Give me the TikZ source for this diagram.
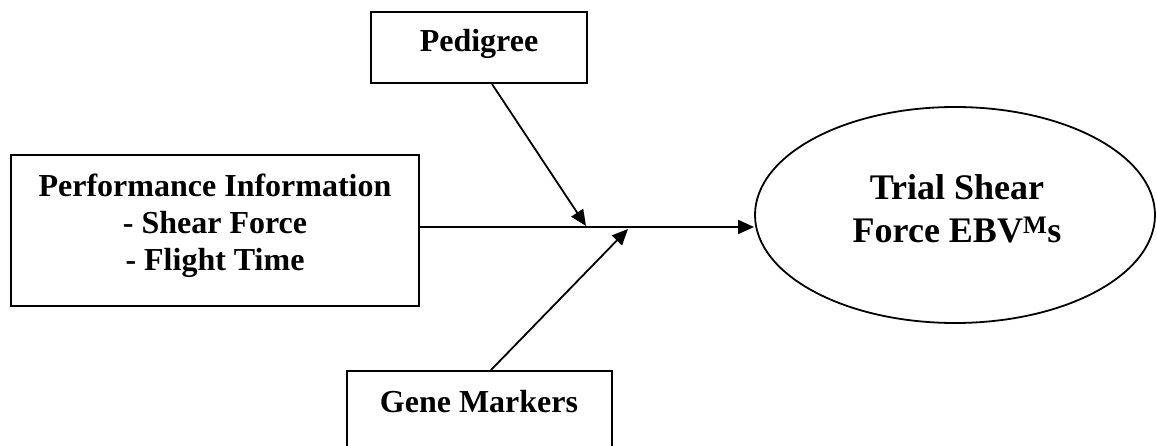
\documentclass[tikz,border=0pt]{standalone}
\usepackage{fontspec}
\setmainfont{Liberation Serif}
\usetikzlibrary{arrows.meta,shapes.geometric,calc}
\begin{document}
\begin{tikzpicture}[x=1pt,y=-1pt,
  boxstyle/.style={draw,line width=2pt,rectangle,inner sep=0pt},
  txt/.style={font=\fontsize{32}{36.7}\selectfont\bfseries,align=center,inner sep=0pt,anchor=base},
  bigtxt/.style={font=\fontsize{36}{42.7}\selectfont\bfseries,align=center,inner sep=0pt,anchor=base},
  arr/.style={line width=1.8pt,-{Triangle[length=16pt,width=14pt]}}]
\useasboundingbox (0,0) rectangle (1157,446);
% boxes
\node[boxstyle,minimum width=216pt,minimum height=71pt] (ped) at (479,47.5) {};
\node[boxstyle,minimum width=408pt,minimum height=151pt] (perf) at (215,230.5) {};
\node[boxstyle,minimum width=265pt,minimum height=110pt] (gene) at (479.5,426) {};
\node[draw,line width=1.8pt,ellipse,minimum width=400pt,minimum height=216pt,inner sep=0pt] (ell) at (955,215) {};
% texts
\node[txt] (pedt) at (479,52) {Pedigree};
\node[txt] (perft1) at (215,197) {Performance Information};
\node[txt] (perft2) at (215,233.7) {- Shear Force};
\node[txt] (perft3) at (215,270.4) {- Flight Time};
\node[txt] (genet) at (479,412) {Gene Markers};
\node[bigtxt] (ellt1) at (957,200) {Trial Shear};
\node[bigtxt] (ellt2) at (957,242.7) {Force EBV\textsuperscript{M}s};
% connectors
\coordinate (j) at (419,227);
\coordinate (p1) at (586,226);
\coordinate (g1) at (628,229);
\draw[arr] (j) -- (j -| ell.west);
\draw[arr] ($(ped.south)+(13,0)$) -- (p1);
\draw[arr] ($(gene.north)+(11.5,0)$) -- (g1);
\end{tikzpicture}
\end{document}
